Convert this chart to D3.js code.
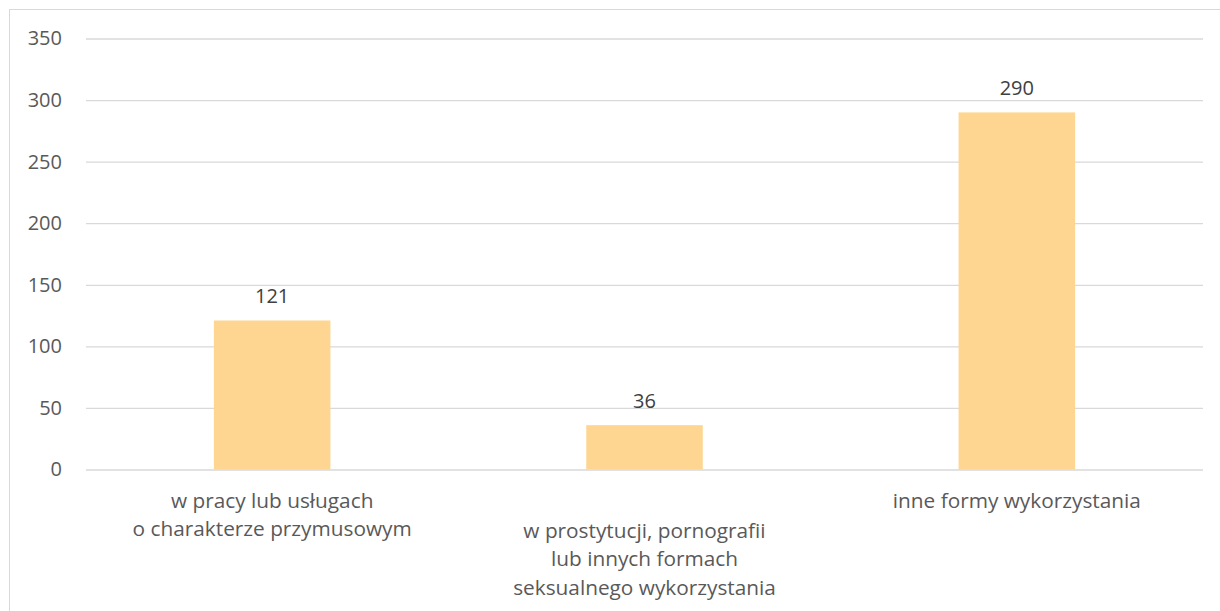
<!DOCTYPE html>
<html><head><meta charset="utf-8">
<script src="https://cdn.jsdelivr.net/npm/d3@7"></script>
<style>
html,body{margin:0;padding:0;background:#fff;}
svg{display:block;}
text{font-family:"Open Sans",sans-serif;}
</style></head>
<body>
<script>
const categories = [
  ["w pracy lub usługach","o charakterze przymusowym"],
  ["w prostytucji, pornografii","lub innych formach","seksualnego wykorzystania"],
  ["inne formy wykorzystania"]
];
const values = [121, 36, 290];
const yTicks = [0, 50, 100, 150, 200, 250, 300, 350];

const W = 1220, H = 611;
const svg = d3.select("body").append("svg").attr("width", W).attr("height", H);

svg.append("rect").attr("x", 9.5).attr("y", 9.5).attr("width", W).attr("height", H)
  .attr("fill", "none").attr("stroke", "#D9D9D9").attr("stroke-width", 1);

const x0 = 86, x1 = 1203, yTop = 38.5, yBot = 469.5;
const x = d3.scaleBand().domain(d3.range(values.length)).range([x0, x1]).paddingInner(0.687).paddingOuter(0.3435);
const y = d3.scaleLinear().domain([0, 350]).range([yBot, yTop]);

const fs = "20px";
const yAxis = d3.axisLeft(y).tickValues(yTicks).tickSize(-(x1 - x0)).tickPadding(24);
const gy = svg.append("g").attr("transform", `translate(${x0},0)`).call(yAxis);
gy.select(".domain").remove();
gy.selectAll(".tick line").attr("stroke", "#D9D9D9").attr("stroke-width", 1.3);
gy.selectAll(".tick text").attr("fill", "#595959").style("font-size", fs).attr("x", -24);

svg.selectAll("rect.bar").data(values).enter().append("rect").attr("class", "bar")
  .attr("x", (d, i) => x(i)).attr("width", x.bandwidth())
  .attr("y", d => y(d)).attr("height", d => y(0) - y(d))
  .attr("fill", "#FFD691");

svg.selectAll("text.val").data(values).enter().append("text").attr("class", "val")
  .attr("x", (d, i) => x(i) + x.bandwidth() / 2).attr("y", d => y(d) - 17)
  .attr("text-anchor", "middle").attr("fill", "#404040").style("font-size", fs)
  .text(d => d);

const lineH = 28.5;
categories.forEach((lines, i) => {
  const cx = x(i) + x.bandwidth() / 2;
  const base = yBot + 38 + (i % 2) * 30;
  const t = svg.append("text").attr("text-anchor", "middle").attr("fill", "#595959").style("font-size", "20.8px");
  lines.forEach((l, j) => {
    t.append("tspan").attr("x", cx).attr("y", base + j * lineH).text(l);
  });
});
</script>
</body></html>
